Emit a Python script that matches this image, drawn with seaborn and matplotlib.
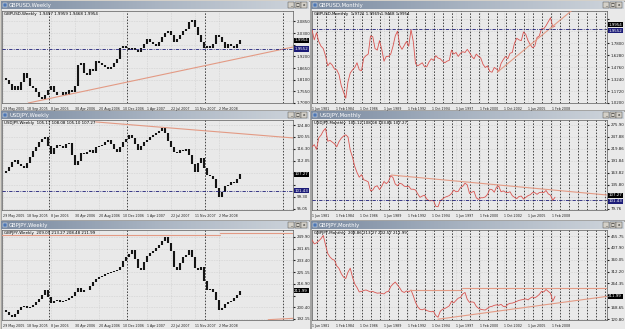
import numpy as np
import matplotlib
matplotlib.use("Agg")
import matplotlib.pyplot as plt
from matplotlib.patches import Rectangle
from matplotlib.colors import LinearSegmentedColormap
import seaborn as sns

FIG_W, FIG_H = 625, 329

FRAME = "#d4d0c8"
PLOT_BG = "#e9e9e9"
CANDLE = "#141414"
PRICE_LINE = "#d9534f"
TREND = "#e39a84"
SEP = "#1a1a1a"
GRID = "#bdbdbd"
NAVY = "#1c1c78"

# ---------------------------------------------------------------------------
# Data
# ---------------------------------------------------------------------------

# weekly charts: one value every 2 weeks, starting 29 May 2005
week_labels = ["29 May 2005", "18 Sep 2005", "8 Jan 2006", "30 Apr 2006", "20 Aug 2006",
               "10 Dec 2006", "1 Apr 2007", "22 Jul 2007", "11 Nov 2007", "2 Mar 2008"]
week_label_pos = [0, 16, 32, 48, 64, 80, 96, 112, 128, 144]
week_year_starts = [31, 83, 135, 187]

gbpusd_w = [1.82, 1.81, 1.79, 1.76, 1.78, 1.76, 1.80, 1.84, 1.82, 1.78,
            1.77, 1.75, 1.73, 1.72, 1.74, 1.76, 1.78, 1.75, 1.74, 1.74,
            1.75, 1.74, 1.76, 1.75, 1.78, 1.88, 1.89, 1.84, 1.83, 1.86,
            1.85, 1.90, 1.89, 1.88, 1.87, 1.86, 1.87, 1.89, 1.91, 1.96,
            1.97, 1.96, 1.95, 1.96, 1.95, 1.94, 1.96, 1.98, 2.00, 1.99,
            1.98, 1.97, 1.99, 2.01, 2.03, 2.04, 2.02, 1.99, 2.00, 2.02,
            2.04, 2.05, 2.08, 2.09, 2.06, 2.02, 1.99, 1.96, 1.97, 1.96,
            1.98, 2.02, 2.01, 1.99, 1.96, 1.98, 1.97, 1.96, 1.98, 1.9954]

usdjpy_w = [107.8, 108.5, 109.8, 111.6, 112.4, 110.9, 110.2, 109.5, 111.2, 113.6,
            115.6, 117.1, 118.9, 119.8, 120.7, 117.3, 114.6, 116.5, 117.8, 117.3,
            116.8, 117.9, 118.4, 114.2, 110.6, 112.2, 114.8, 114.6, 115.3, 116.1,
            114.7, 116.9, 117.4, 117.8, 118.6, 119.4, 118.0, 116.2, 115.3, 117.1,
            118.9, 119.7, 121.2, 120.3, 117.9, 116.1, 117.3, 118.6, 119.5, 120.6,
            121.4, 122.0, 122.8, 123.7, 121.8, 119.2, 117.0, 115.3, 114.9, 116.0,
            115.6, 116.3, 114.1, 110.8, 108.2, 111.3, 113.2, 109.6, 107.2, 106.6,
            105.8, 102.6, 99.3, 101.1, 103.2, 103.5, 104.4, 104.2, 105.8, 107.27]

gbpjpy_w = [198.4, 197.0, 195.2, 193.5, 195.8, 198.2, 200.5, 201.6, 199.5, 200.5,
            202.1, 203.8, 205.9, 208.8, 212.5, 207.4, 203.3, 204.6, 205.5, 204.1,
            205.0, 205.8, 206.9, 208.6, 211.2, 214.0, 211.0, 212.2, 212.5, 215.1,
            218.0, 220.4, 221.7, 222.4, 223.5, 224.5, 225.0, 225.8, 226.6, 229.1,
            233.0, 235.8, 238.2, 240.7, 234.5, 228.0, 226.6, 232.0, 236.4, 238.6,
            240.0, 242.3, 244.6, 247.0, 249.9, 246.0, 240.2, 229.0, 226.6, 231.5,
            235.8, 237.5, 240.7, 236.0, 228.2, 226.6, 228.8, 219.0, 212.5, 213.4,
            211.0, 205.2, 198.4, 200.1, 202.8, 204.0, 205.1, 206.9, 209.3, 211.99]

# monthly charts: one value per quarter, Jun 1981 .. Jun 2008
month_labels = ["1 Jun 1981", "1 Feb 1984", "1 Oct 1986", "1 Jun 1989", "1 Feb 1992", "1 Oct 1994",
                "1 Jun 1997", "1 Feb 2000", "1 Oct 2002", "1 Jun 2005", "1 Feb 2008"]
month_label_pos = [0, 32, 64, 96, 128, 160, 192, 224, 256, 288, 320]

gbpusd_m = [1.95, 1.82, 1.91,
            1.80, 1.74, 1.71, 1.62,  1.49, 1.53, 1.50, 1.45,  1.44, 1.38, 1.24, 1.16,
            1.08, 1.29, 1.40, 1.44,  1.47, 1.53, 1.44, 1.43,  1.59, 1.62, 1.64, 1.87,
            1.86, 1.71, 1.69, 1.81,  1.70, 1.55, 1.61, 1.61,  1.64, 1.74, 1.87, 1.93,
            1.75, 1.70, 1.75, 1.80,  1.74, 1.95, 1.80, 1.52,  1.49, 1.51, 1.53, 1.48,
            1.48, 1.54, 1.58, 1.56,  1.62, 1.59, 1.58, 1.55,  1.53, 1.55, 1.56, 1.69,
            1.64, 1.66, 1.61, 1.65,  1.67, 1.66, 1.70, 1.66,  1.61, 1.58, 1.64, 1.61,
            1.59, 1.51, 1.47, 1.49,  1.42, 1.41, 1.47, 1.45,  1.42, 1.52, 1.57, 1.61,
            1.58, 1.65, 1.66, 1.78,  1.84, 1.82, 1.81, 1.92,  1.89, 1.81, 1.76, 1.72,
            1.74, 1.85, 1.87, 1.96,  1.96, 2.00, 2.05, 2.10,
            1.98, 1.9954]

usdjpy_m = [225, 230, 219,
            246, 252, 262, 268,  238, 240, 236, 232,  225, 237, 245, 250,
            253, 248, 217, 201,  179, 165, 154, 160,  148, 146, 143, 122,
            124, 132, 134, 125,  133, 144, 139, 144,  158, 153, 138, 134,
            140, 138, 133, 132,  133, 126, 126, 124,  115, 107, 110, 112,
            103, 99, 99, 100,  86, 85, 99, 103,  107, 109, 111, 116,
            124, 120, 121, 130,  133, 140, 136, 116,  119, 121, 106, 102,
            106, 106, 108, 114,  126, 125, 119, 131,  133, 120, 122, 119,
            118, 120, 111, 107,  104, 109, 110, 103,  107, 111, 113, 118,
            118, 114, 118, 119,  118, 123, 115, 112,
            100, 107.27]

gbpjpy_m = [440, 424, 428,
            436, 445, 458, 420,  385, 371, 362, 358,  335, 325, 304, 290,
            284, 310, 326, 290,  262, 248, 230, 232,  236, 238, 234, 230,
            232, 228, 225, 226,  224, 222, 230, 232,  252, 262, 270, 258,
            246, 232, 228, 234,  230, 238, 215, 188,  170, 160, 158, 162,
            155, 152, 150, 152,  135, 128, 152, 160,  163, 168, 174, 192,
            186, 196, 205, 208,  222, 228, 200, 188,  190, 188, 172, 164,
            160, 158, 157, 164,  170, 172, 176, 178,  176, 180, 172, 170,
            180, 184, 185, 188,  192, 196, 198, 200,  202, 198, 205, 210,
            206, 212, 220, 232,  230, 240, 232, 225,
            192, 211.99]

# price scales
gbpusd_w_ticks = [2.0850, 2.0300, 1.9750, 1.9200, 1.8650, 1.8100, 1.7550, 1.7000]
gbpusd_m_ticks = [2.0840, 1.9320, 1.7800, 1.6280, 1.4760, 1.3240, 1.1720, 1.0200]
usdjpy_w_ticks = [124.80, 120.55, 116.30, 112.05, 107.80, 103.55, 99.30, 95.05]
usdjpy_m_ticks = [275.90, 247.88, 219.86, 191.84, 163.82, 135.80, 107.78, 79.76]
gbpjpy_w_ticks = [249.90, 241.65, 233.40, 225.15, 216.90, 208.65, 200.40, 192.15]
gbpjpy_m_ticks = [455.75, 407.90, 360.05, 312.20, 264.35, 216.50, 168.65, 120.80]

# drawn trend lines (x in weeks / months, y in price)
gbpusd_w_trend = [[(17, 1.700), (194, 1.965)]]
gbpusd_m_trend = [[(247, 1.41), (360, 2.30)]]
usdjpy_w_trend = [[(62, 125.9), (194, 120.2)]]
usdjpy_m_trend = [[(106, 159.0), (393, 112.5)]]
gbpjpy_w_trend = [[(-1, 251.3), (145, 251.3)], [(145, 252.4), (194, 252.4)],
                  [(177, 191.6), (194, 192.6)]]
gbpjpy_m_trend = [[(131, 238), (200, 238)], [(200, 246), (393, 246)],
                  [(168, 120), (393, 212)]]

# ---------------------------------------------------------------------------
# Layout of the six terminal windows
# ---------------------------------------------------------------------------

charts = [
    dict(title="GBPUSD,Weekly", header="GBPUSD,Weekly  1.9497 1.9959 1.9468 1.9954",
         kind="w", data=gbpusd_w, ticks=gbpusd_w_ticks, fmt="{:.4f}", ylim=(1.700, 2.1342),
         last="1.9954", last_val=1.9954, hline=1.9552, trends=gbpusd_w_trend,
         x0=0, y0=0, pw=310, ph=110, top=11, bottom=103),
    dict(title="GBPUSD,Monthly", header="GBPUSD,Monthly  1.9721 1.9969 1.9468 1.9954",
         kind="m", data=gbpusd_m, ticks=gbpusd_m_ticks, fmt="{:.4f}", ylim=(1.020, 2.1856),
         last="1.9954", last_val=1.9954, hline=1.9552, trends=gbpusd_m_trend,
         x0=310, y0=0, pw=315, ph=110, top=11, bottom=103),
    dict(title="USDJPY,Weekly", header="USDJPY,Weekly  105.17 108.08 105.10 107.27",
         kind="w", data=usdjpy_w, ticks=usdjpy_w_ticks, fmt="{:.2f}", ylim=(94.635, 126.585),
         last="107.27", last_val=107.27, hline=101.43, trends=usdjpy_w_trend,
         x0=0, y0=110, pw=310, ph=110, top=10, bottom=100),
    dict(title="USDJPY,Monthly", header="USDJPY,Monthly  105.12 108.08 103.86 107.27",
         kind="m", data=usdjpy_m, ticks=usdjpy_m_ticks, fmt="{:.2f}", ylim=(77.425, 287.575),
         last="107.27", last_val=107.27, hline=101.43, trends=usdjpy_m_trend,
         x0=310, y0=110, pw=315, ph=110, top=10, bottom=100),
    dict(title="GBPJPY,Weekly", header="GBPJPY,Weekly  209.09 213.27 208.48 211.99",
         kind="w", data=gbpjpy_w, ticks=gbpjpy_w_ticks, fmt="{:.2f}", ylim=(191.385, 254.835),
         last="211.99", last_val=211.99, hline=None, trends=gbpjpy_w_trend,
         x0=0, y0=220, pw=310, ph=109, top=10, bottom=100),
    dict(title="GBPJPY,Monthly", header="GBPJPY,Monthly  208.86 213.27 202.57 211.99",
         kind="m", data=gbpjpy_m, ticks=gbpjpy_m_ticks, fmt="{:.2f}", ylim=(116.81, 479.96),
         last="211.99", last_val=211.99, hline=None, trends=gbpjpy_m_trend,
         x0=310, y0=220, pw=315, ph=109, top=10, bottom=100),
]

# ---------------------------------------------------------------------------
# Drawing
# ---------------------------------------------------------------------------

sns.set_style("white")
plt.rcParams["font.family"] = ["DejaVu Sans"]

fig = plt.figure(figsize=(FIG_W / 100, FIG_H / 100), dpi=100)
fig.patch.set_facecolor(FRAME)

bg = fig.add_axes([0, 0, 1, 1])
bg.axis("off")
title_cmap = LinearSegmentedColormap.from_list("tb", ["#7b8ba1", "#a9b4c2", "#cfd5dc"])
grad = np.linspace(0, 1, 128)[None, :]

LABEL_PT = 2.9
DATE_PT = 2.3
BOX_PX = 6.0   # height of a price box in pixels


def add_px_axes(x, y, w, h):
    return fig.add_axes([x / FIG_W, 1 - (y + h) / FIG_H, w / FIG_W, h / FIG_H])


def draw_window(c):
    x0, y0, pw, ph = c["x0"], c["y0"], c["pw"], c["ph"]
    bg.add_patch(Rectangle((x0 + 0.5, y0 + 0.5), pw - 1, ph - 1, fc=PLOT_BG, ec="#8c8c8c", lw=0.5))
    bg.imshow(grad, cmap=title_cmap, extent=[x0 + 1, x0 + pw - 1, y0 + 9, y0 + 1],
              aspect="auto", zorder=2)
    bg.add_patch(Rectangle((x0 + 2.5, y0 + 2.5), 4.5, 4.5, fc="#4d76b3", ec="white", lw=0.3, zorder=3))
    bg.text(x0 + 9, y0 + 5.2, c["title"], color="white", fontsize=3.8, va="center", ha="left", zorder=4)
    for i, glyph in enumerate(["_", "□", "x"]):
        bx = x0 + pw - 22 + i * 6.5
        bg.add_patch(Rectangle((bx, y0 + 2), 6, 6, fc=FRAME, ec="#404040", lw=0.3, zorder=3))
        bg.text(bx + 3, y0 + 5, glyph, fontsize=3.0, ha="center", va="center", color="black", zorder=4)


def draw_chart(c):
    plot_w = 291 if c["kind"] == "w" else 295
    plot_h = c["bottom"] - c["top"]
    ax = add_px_axes(c["x0"] + 2, c["y0"] + c["top"], plot_w, plot_h)
    ax.set_facecolor(PLOT_BG)
    lo, hi = c["ylim"]
    per_px = (hi - lo) / plot_h

    if c["kind"] == "w":
        closes = np.asarray(c["data"], dtype=float)
        x = np.arange(len(closes)) * 2
        opens = np.r_[closes[0], closes[:-1]]
        ax.vlines(x, np.minimum(opens, closes), np.maximum(opens, closes), color=CANDLE, lw=1.5, zorder=3)
        ax.set_xlim(-0.5, 193.5)
        ax.set_xticks(week_label_pos)
        ax.set_xticklabels(week_labels)
        seps = week_year_starts
    else:
        x = np.arange(len(c["data"])) * 3
        sns.lineplot(x=x, y=c["data"], ax=ax, color=PRICE_LINE, lw=0.6, zorder=3)
        ax.set_xlim(0, 393.3)
        ax.set_xticks(month_label_pos)
        ax.set_xticklabels(month_labels)
        seps = np.arange(7, 393, 12)
    for s in seps:
        ax.axvline(s, color=SEP, ls=(0, (2, 2)), lw=0.55, zorder=2)

    for (xa, ya), (xb, yb) in c["trends"]:
        ax.plot([xa, xb], [ya, yb], color=TREND, lw=0.8, zorder=4)

    if c["hline"] is not None:
        ax.axhline(c["hline"], color=NAVY, ls=(0, (4, 1.5, 1, 1.5)), lw=0.6, zorder=4)

    # price boxes on the scale (current price, drawn level); nudge apart when they touch
    boxes = [(c["last_val"], c["last"], "black")]
    if c["hline"] is not None:
        boxes.append((c["hline"], c["fmt"].format(c["hline"]), NAVY))
    if len(boxes) == 2:
        gap = abs(boxes[0][0] - boxes[1][0]) / per_px
        if gap < BOX_PX:
            shift = (BOX_PX - gap) / 2 * per_px
            (va, ta, fa), (vb, tb, fb) = sorted(boxes, key=lambda b: -b[0])
            boxes = [(va + shift, ta, fa), (vb - shift, tb, fb)]

    # the boxes hide the scale labels lying under them
    labels = []
    for t in c["ticks"]:
        hidden = any(abs(t - b[0]) / per_px < BOX_PX for b in boxes)
        labels.append("" if hidden else c["fmt"].format(t))

    ax.set_ylim(lo, hi)
    ax.set_yticks(c["ticks"])
    ax.set_yticklabels(labels)
    ax.yaxis.tick_right()
    ax.set_xlabel("")
    ax.set_ylabel("")
    ax.tick_params(axis="y", direction="out", length=1.5, pad=1.2, labelsize=LABEL_PT, colors="#202020")
    ax.tick_params(axis="x", direction="out", length=2.0, pad=0.8, labelsize=DATE_PT, colors="#202020")
    for lbl in ax.get_xticklabels():
        lbl.set_ha("left")
    ax.grid(True, color=GRID, ls=(0, (1, 2)), lw=0.4)
    for sp in ax.spines.values():
        sp.set_color("#5a5a5a")
        sp.set_linewidth(0.5)

    ax.text(0.007, 0.985, c["header"], transform=ax.transAxes, fontsize=LABEL_PT, va="top", ha="left",
            color="black", zorder=6)

    for v, txt, fc in boxes:
        ax.text(1.004, v, txt, transform=ax.get_yaxis_transform(), fontsize=LABEL_PT,
                color="white", va="center", ha="left", clip_on=False, zorder=7,
                bbox=dict(boxstyle="square,pad=0.15", fc=fc, lw=0))


for c in charts:
    draw_window(c)
bg.set_xlim(0, FIG_W)
bg.set_ylim(FIG_H, 0)

for c in charts:
    draw_chart(c)

fig.savefig("out.png", dpi=100, facecolor=FRAME)
